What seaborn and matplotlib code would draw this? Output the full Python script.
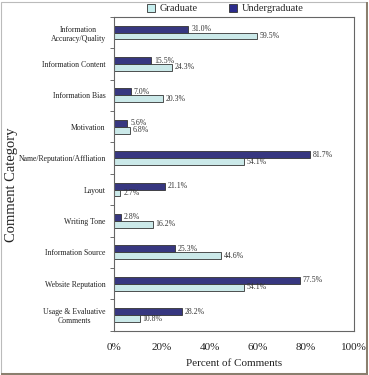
import matplotlib
matplotlib.use('Agg')
import matplotlib.pyplot as plt
import seaborn as sns
import pandas as pd
from matplotlib.patches import Patch, Rectangle
from matplotlib.ticker import FixedLocator, PercentFormatter

categories = ['Information\nAccuracy/Quality', 'Information Content', 'Information Bias',
              'Motivation', 'Name/Reputation/Affliation', 'Layout', 'Writing Tone',
              'Information Source', 'Website Reputation', 'Usage & Evaluative\nComments']
undergraduate = [31.0, 15.5, 7.0, 5.6, 81.7, 21.1, 2.8, 25.3, 77.5, 28.2]
graduate = [59.5, 24.3, 20.3, 6.8, 54.1, 2.7, 16.2, 44.6, 54.1, 10.8]

groups = ['Undergraduate', 'Graduate']
colors = {'Undergraduate': '#2b2b8c', 'Graduate': '#c6eeee'}

df = pd.DataFrame({
    'category': categories * 2,
    'group': ['Undergraduate'] * len(categories) + ['Graduate'] * len(categories),
    'value': undergraduate + graduate,
})

sns.set_style('white')
plt.rcParams['font.family'] = ['Liberation Serif', 'DejaVu Serif']

fig = plt.figure(figsize=(3.69, 3.75), dpi=100)
ax = fig.add_axes([0.309, 0.118, 0.650, 0.837])

sns.barplot(data=df, y='category', x='value', hue='group', hue_order=groups,
            order=categories, palette=colors, width=0.44, orient='h',
            edgecolor='#333333', linewidth=0.6, legend=False, ax=ax)

for cont in ax.containers:
    ax.bar_label(cont, labels=[f'{v:.1f}%' for v in cont.datavalues],
                 padding=2, fontsize=5.6, color='#333333')

ax.set_xlim(0, 100)
ax.set_ylim(len(categories) - 0.5, -0.5)
ax.xaxis.set_major_formatter(PercentFormatter(decimals=0))
ax.set_xticks([0, 20, 40, 60, 80, 100])
ax.tick_params(axis='x', length=0, labelsize=8, pad=9, colors='#222222')
ax.tick_params(axis='y', which='major', length=0, labelsize=5.6, pad=6, colors='#222222')
ax.yaxis.set_minor_locator(FixedLocator([i + 0.5 for i in range(-1, len(categories))]))
ax.tick_params(axis='y', which='minor', length=3, width=0.6, color='#555555', left=True)
for lbl in ax.get_yticklabels():
    lbl.set_multialignment('center')

ax.set_xlabel('Percent of Comments', fontsize=8, labelpad=5, color='#222222')
ax.set_ylabel('')
fig.text(0.03, 0.507, 'Comment Category', rotation=90, ha='center', va='center',
         fontsize=10.5, color='#222222')
for s in ax.spines.values():
    s.set_color('#666666')
    s.set_linewidth(0.8)

handles = [Patch(facecolor=colors['Graduate'], edgecolor='#333333', linewidth=0.6, label='Graduate'),
           Patch(facecolor=colors['Undergraduate'], edgecolor='#333333', linewidth=0.6, label='Undergraduate')]
fig.legend(handles=handles, loc='center', bbox_to_anchor=(0.61, 0.977), ncol=2,
           frameon=False, fontsize=7.5, handlelength=0.8, handleheight=0.8,
           columnspacing=3.0, handletextpad=0.4, borderaxespad=0)

# outer frame of the picture
fig.patches.append(Rectangle((0.004, 0.006), 0.988, 0.99, transform=fig.transFigure,
                             fill=False, edgecolor='#bbbbbb', linewidth=0.8))
fig.patches.append(Rectangle((0.992, 0.006), 0.006, 0.99, transform=fig.transFigure,
                             facecolor='#8a7f6e', edgecolor='none'))
fig.patches.append(Rectangle((0.004, 0.0), 0.994, 0.006, transform=fig.transFigure,
                             facecolor='#8a7f6e', edgecolor='none'))

fig.savefig('out.png', dpi=100)
